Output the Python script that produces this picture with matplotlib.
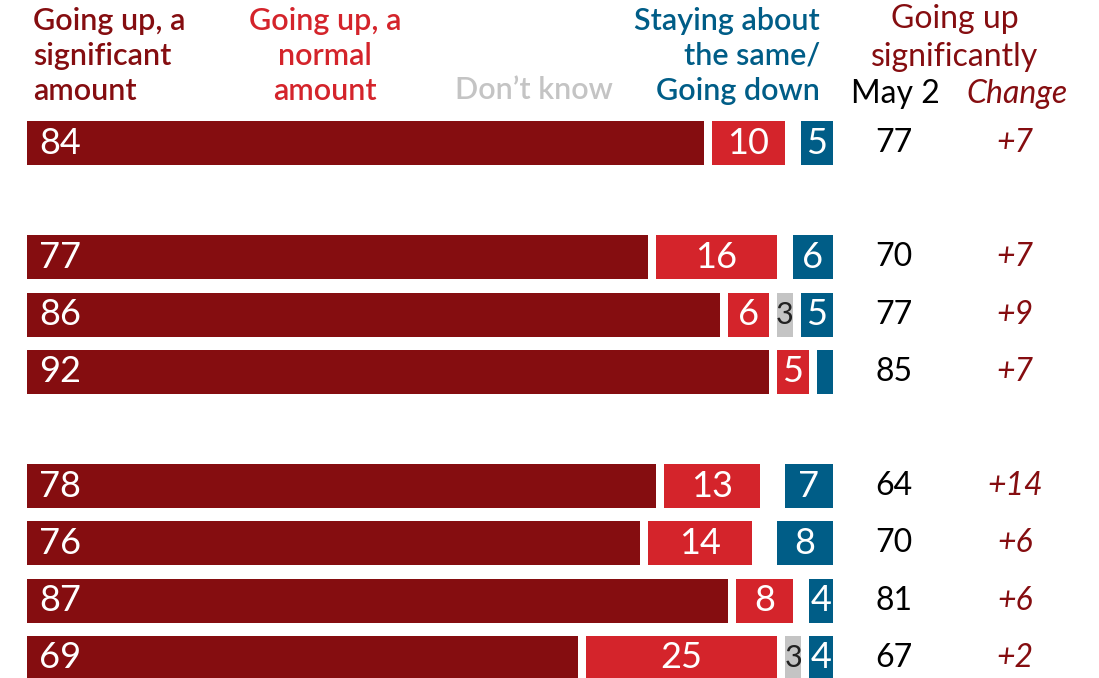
"""Stacked bar chart: expectations for prices, with May 2 comparison column."""

import matplotlib
matplotlib.use("Agg")
import matplotlib.pyplot as plt

# --- data ---
rows = [0, 2, 3, 4, 6, 7, 8, 9]  # vertical slots (blank slots separate groups)
up_sig = [84, 77, 86, 92, 78, 76, 87, 69]
up_norm = [10, 16, 6, 5, 13, 14, 8, 25]
dont_know = [0, 0, 3, 0, 0, 0, 0, 3]
same_down = [5, 6, 5, 3, 7, 8, 4, 4]
show_down_label = [True, True, True, False, True, True, True, True]
may2 = [77, 70, 77, 85, 64, 70, 81, 67]
change = ["+7", "+7", "+9", "+7", "+14", "+6", "+6", "+2"]

DARK_RED = "#850d10"
RED = "#d4242b"
GREY = "#c4c4c4"
BLUE = "#005d87"

plt.rcParams["font.family"] = ["Lato", "DejaVu Sans"]

W, H = 1099, 678
fig = plt.figure(figsize=(W / 100, H / 100), dpi=100)
ax = fig.add_axes([0, 0, 1, 1])
ax.set_axis_off()

PX = 8.06          # pixels per percentage point
X0 = 27            # pixel where 0 sits
ax.set_xlim(-X0 / PX, (W - X0) / PX)
ROW = 57.2
ax.set_ylim((H - 143) / ROW, -143 / ROW)

gap = 1.0
h = 0.77
fs = 26

for i, y in enumerate(rows):
    vals = [up_sig[i], up_norm[i], dont_know[i], same_down[i]]
    k = 100 / max(sum(vals), 100)
    a, b, c, d = [v * k for v in vals]

    # significant amount, starts at 0
    ax.barh(y, a, left=0, height=h, color=DARK_RED)
    ax.text(1.5, y, str(up_sig[i]), color="white", fontsize=fs,
            va="center", ha="left")

    # normal amount
    ax.barh(y, b - gap, left=a + gap, height=h, color=RED)
    ax.text(a + gap + (b - gap) / 2, y, str(up_norm[i]), color="white",
            fontsize=fs, va="center", ha="center")

    # don't know
    if dont_know[i]:
        ax.barh(y, c - gap, left=a + b + gap, height=h, color=GREY)
        ax.text(a + b + gap + (c - gap) / 2, y, str(dont_know[i]),
                color="#222222", fontsize=22, va="center", ha="center")

    # same / down, right aligned at 100
    ax.barh(y, d - gap, left=100 - d + gap, height=h, color=BLUE)
    if show_down_label[i]:
        ax.text(100 - (d - gap) / 2, y, str(same_down[i]), color="white",
                fontsize=fs, va="center", ha="center")

    # May 2 and change columns
    ax.text((894 - X0) / PX, y, str(may2[i]), color="black", fontsize=23,
            va="center", ha="center")
    ax.text((1015 - X0) / PX, y, change[i], color=DARK_RED, fontsize=23,
            va="center", ha="center", style="italic")

# --- headers ---
hfs = 22
ls = 1.3
fig.text(33 / W, 1 - 56 / H, "Going up, a\nsignificant\namount", color=DARK_RED,
         fontsize=hfs, fontweight="semibold", ha="left", va="center",
         linespacing=ls)
fig.text(325 / W, 1 - 56 / H, "Going up, a\nnormal\namount", color=RED,
         fontsize=hfs, fontweight="semibold", ha="center", va="center",
         linespacing=ls, multialignment="center")
fig.text(534 / W, 1 - 90 / H, "Don\u2019t know", color=GREY,
         fontsize=hfs, fontweight="semibold", ha="center", va="center")
fig.text(820 / W, 1 - 56 / H, "Staying about\nthe same/\nGoing down", color=BLUE,
         fontsize=hfs, fontweight="semibold", ha="right", va="center",
         linespacing=ls, multialignment="right")
fig.text(955 / W, 1 - 38 / H, "Going up\nsignificantly", color=DARK_RED,
         fontsize=23, ha="center", va="center", linespacing=1.3,
         multialignment="center")
fig.text(895 / W, 1 - 94 / H, "May 2", color="black", fontsize=23,
         ha="center", va="center")
fig.text(1017 / W, 1 - 94 / H, "Change", color=DARK_RED, fontsize=23,
         ha="center", va="center", style="italic")

fig.savefig("out.png", dpi=100)
